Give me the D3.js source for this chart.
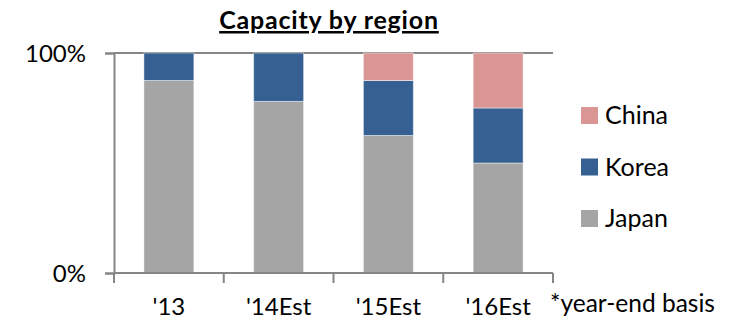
<!DOCTYPE html>
<html>
<head>
<meta charset="utf-8">
<script src="https://cdn.jsdelivr.net/npm/d3@7/dist/d3.min.js"></script>
<style>
  html, body { margin: 0; padding: 0; background: #fff; }
  svg { display: block; font-family: Lato, "Open Sans", sans-serif; }
</style>
</head>
<body>
<svg id="chart" width="733" height="320"></svg>
<script>
// Capacity share by region, year-end basis
const categories = ["'13", "'14Est", "'15Est", "'16Est"];
const japan = [0.875, 0.78, 0.625, 0.50];
const korea = [0.125, 0.22, 0.25, 0.25];
const china = [0.0, 0.0, 0.125, 0.25];
const seriesNames = ["Japan", "Korea", "China"];
const seriesColors = ["#A5A5A5", "#366092", "#DA9694"];
const yTicks = [0, 1];

const svg = d3.select("#chart");
const axisColor = "#868686";

const rows = categories.map((c, i) => ({ cat: c, Japan: japan[i], Korea: korea[i], China: china[i] }));
const stacked = d3.stack().keys(seriesNames)(rows);

const x = d3.scaleBand()
  .domain(categories)
  .range([114, 553])
  .paddingInner(0.545)
  .paddingOuter(0.2725);

const y = d3.scaleLinear().domain([0, 1]).range([273, 53]);
const color = d3.scaleOrdinal().domain(seriesNames).range(seriesColors);

// 100% gridline
svg.append("line")
  .attr("x1", x.range()[0]).attr("x2", x.range()[1])
  .attr("y1", y(1)).attr("y2", y(1))
  .attr("stroke", axisColor).attr("stroke-width", 2);

// stacked bars
svg.append("g").selectAll("g")
  .data(stacked)
  .join("g")
  .attr("fill", d => color(d.key))
  .selectAll("rect")
  .data(d => d)
  .join("rect")
  .attr("x", d => x(d.data.cat))
  .attr("width", x.bandwidth())
  .attr("y", d => y(d[1]))
  .attr("height", d => Math.max(0, y(d[0]) - y(d[1])))
  .attr("stroke", "rgba(255,255,255,0.45)")
  .attr("stroke-width", 1);

// y axis
const yAxis = svg.append("g")
  .attr("transform", `translate(${x.range()[0]},0)`)
  .call(d3.axisLeft(y).tickValues(yTicks).tickFormat(d3.format(".0%")).tickSize(9).tickPadding(19));
yAxis.select(".domain").attr("stroke", axisColor).attr("stroke-width", 2);
yAxis.selectAll(".tick line").attr("stroke", axisColor).attr("stroke-width", 2);
yAxis.selectAll(".tick text")
  .attr("fill", "#000").attr("font-size", 24).attr("font-family", "Lato, sans-serif").attr("dy", "0.36em");

// x axis line with boundary ticks
const xAxisG = svg.append("g");
xAxisG.append("line")
  .attr("x1", x.range()[0]).attr("x2", x.range()[1])
  .attr("y1", y(0)).attr("y2", y(0))
  .attr("stroke", axisColor).attr("stroke-width", 2);
const gap = (x.step() - x.bandwidth()) / 2;
const boundaries = categories.map(c => x(c) - gap).concat([x(categories[categories.length - 1]) + x.bandwidth() + gap]);
xAxisG.selectAll("line.tk")
  .data(boundaries)
  .join("line")
  .attr("class", "tk")
  .attr("x1", d => d).attr("x2", d => d)
  .attr("y1", y(0)).attr("y2", y(0) + 10)
  .attr("stroke", axisColor).attr("stroke-width", 2);
xAxisG.selectAll("text")
  .data(categories)
  .join("text")
  .attr("x", d => x(d) + x.bandwidth() / 2)
  .attr("y", 315)
  .attr("text-anchor", "middle")
  .attr("font-size", 24)
  .attr("fill", "#000")
  .text(d => d);

// footnote
svg.append("text")
  .attr("x", 550).attr("y", 312)
  .attr("font-size", 24.5)
  .attr("fill", "#000")
  .text("*year-end basis");

// title
svg.append("text")
  .attr("x", 329).attr("y", 29)
  .attr("text-anchor", "middle")
  .attr("font-size", 25)
  .attr("font-weight", "bold")
  .attr("letter-spacing", 0.8)
  .attr("text-decoration", "underline")
  .attr("fill", "#000")
  .text("Capacity by region");

// legend (top to bottom: China, Korea, Japan)
const legendOrder = seriesNames.slice().reverse();
const legend = svg.append("g").selectAll("g")
  .data(legendOrder)
  .join("g")
  .attr("transform", (d, i) => `translate(581, ${107 + i * 51.5})`);
legend.append("rect")
  .attr("width", 17).attr("height", 17)
  .attr("fill", d => color(d));
legend.append("text")
  .attr("x", 24).attr("y", 17)
  .attr("font-size", 25)
  .attr("fill", "#000")
  .text(d => d);
</script>
</body>
</html>
